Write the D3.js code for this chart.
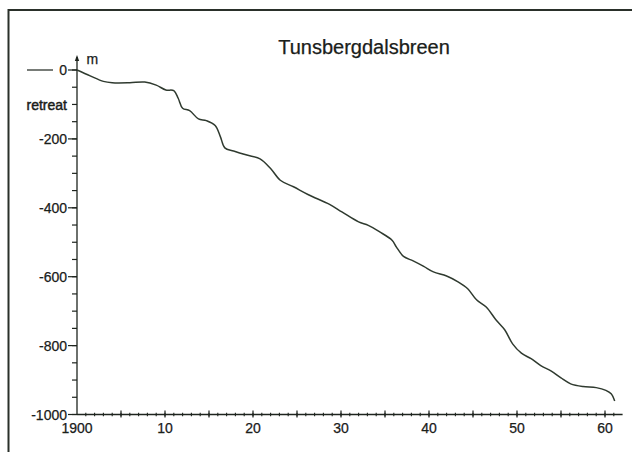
<!DOCTYPE html>
<html><head><meta charset="utf-8">
<script src="https://cdn.jsdelivr.net/npm/d3@7/dist/d3.min.js"></script>
<style>
html,body{margin:0;padding:0;background:#fff;}
svg{display:block;}
text{font-family:"Liberation Sans",Arial,Helvetica,sans-serif;fill:#1a201a;stroke:#1a201a;stroke-width:0.25px;}
</style></head>
<body>
<svg id="chart" width="632" height="452"></svg>
<script>
const title = "Tunsbergdalsbreen";
const years = [1900, 1901.5, 1903, 1904, 1906, 1907.7, 1909, 1910.1, 1911, 1911.5, 1912, 1912.8, 1913.8, 1914.7, 1915.7, 1916.3, 1916.8, 1917.8, 1919.3, 1920.8, 1922, 1923.1, 1924.6, 1926.3, 1928.7, 1930.1, 1932, 1933.1, 1934.4, 1935.8, 1936.3, 1937.1, 1938.2, 1939.4, 1940.5, 1942, 1943.3, 1944.4, 1945.4, 1946.5, 1947.6, 1948.6, 1949.5, 1950.5, 1951.6, 1952.7, 1953.9, 1955, 1956.1, 1957.5, 1959, 1960.1, 1960.7, 1961.1];
const retreat = [0, -17, -33, -37, -37, -35, -44, -58, -60, -82, -111, -118, -142, -147, -161, -194, -226, -235, -247, -258, -286, -320, -339, -362, -390, -412, -441, -451, -470, -494, -514, -541, -554, -570, -586, -598, -615, -635, -667, -688, -725, -754, -795, -822, -838, -858, -874, -894, -911, -919, -922, -930, -940, -961];
const xTickValues = [1900, 1910, 1920, 1930, 1940, 1950, 1960];
const xTickLabels = ["1900", "10", "20", "30", "40", "50", "60"];
const yTickValues = [0, -200, -400, -600, -800, -1000];
const yTickLabels = ["0", "-200", "-400", "-600", "-800", "-1000"];

const ink = "#1e241e";
const svg = d3.select("#chart");

// frame
svg.append("path").attr("d", "M8.5,452 L8.5,10 L632,10")
  .attr("fill", "none").attr("stroke", "#2a302a").attr("stroke-width", 2);

const x = d3.scaleLinear().domain([1900, 1962]).range([77, 622.6]);
const y = d3.scaleLinear().domain([0, -1000]).range([70, 414.5]);

// x axis line
const g = svg.append("g");
g.append("line").attr("x1", x(1900)).attr("x2", x(1962)).attr("y1", y(-1000)).attr("y2", y(-1000))
  .attr("stroke", ink).attr("stroke-width", 1.3);
// x minor ticks (yearly)
g.selectAll(".xmin").data(d3.range(1901, 1962)).join("line")
  .attr("x1", d => x(d)).attr("x2", d => x(d))
  .attr("y1", y(-1000) - 1.8).attr("y2", y(-1000) + 1.8)
  .attr("stroke", ink).attr("stroke-width", 1.1);
// x mid ticks every 5
g.selectAll(".xmaj").data(d3.range(1905, 1962, 5)).join("line")
  .attr("x1", d => x(d)).attr("x2", d => x(d))
  .attr("y1", y(-1000) - 4).attr("y2", y(-1000) + 3)
  .attr("stroke", ink).attr("stroke-width", 1.2);
g.selectAll(".xlab").data(xTickValues).join("text")
  .attr("x", d => x(d)).attr("y", 433)
  .attr("text-anchor", "middle").attr("font-size", 14)
  .text((d, i) => xTickLabels[i]);

// y axis line with arrow
g.append("line").attr("x1", x(1900)).attr("x2", x(1900)).attr("y1", y(-1000)).attr("y2", 57)
  .attr("stroke", ink).attr("stroke-width", 1.3);
g.append("path").attr("d", `M${x(1900)},55 L${x(1900)-2.2},61 L${x(1900)+2.2},61 Z`).attr("fill", ink);
// y minor ticks
g.selectAll(".ymin").data(d3.range(0, -1001, -50)).join("line")
  .attr("x1", x(1900) - 5).attr("x2", x(1900))
  .attr("y1", d => y(d)).attr("y2", d => y(d))
  .attr("stroke", ink).attr("stroke-width", 1.2);
g.selectAll(".ymaj").data(yTickValues).join("line")
  .attr("x1", x(1900) - 9).attr("x2", x(1900))
  .attr("y1", d => y(d)).attr("y2", d => y(d))
  .attr("stroke", ink).attr("stroke-width", 1.2);
g.selectAll(".ylab").data(yTickValues).join("text")
  .attr("x", 67).attr("y", d => y(d) + 5)
  .attr("text-anchor", "end").attr("font-size", 14)
  .text((d, i) => yTickLabels[i]);

// legend-like stroke left of 0
g.append("line").attr("x1", 27).attr("x2", 53).attr("y1", y(0)).attr("y2", y(0))
  .attr("stroke", ink).attr("stroke-width", 1.2);

// axis labels
svg.append("text").attr("x", 67).attr("y", 110).attr("text-anchor", "end")
  .attr("font-size", 14).style("stroke-width", "0.45px").text("retreat");
svg.append("text").attr("x", 86.5).attr("y", 64).attr("font-size", 14).text("m");

// title
svg.append("text").attr("x", 364).attr("y", 53.5).attr("text-anchor", "middle")
  .attr("font-size", 20).text(title);

// curve
const line = d3.line().x(d => x(d[0])).y(d => y(d[1])).curve(d3.curveCatmullRom.alpha(0.5));
svg.append("path").datum(years.map((yr, i) => [yr, retreat[i]]))
  .attr("d", line).attr("fill", "none").attr("stroke", "#2f3a2f").attr("stroke-width", 1.5);
</script>
</body></html>
